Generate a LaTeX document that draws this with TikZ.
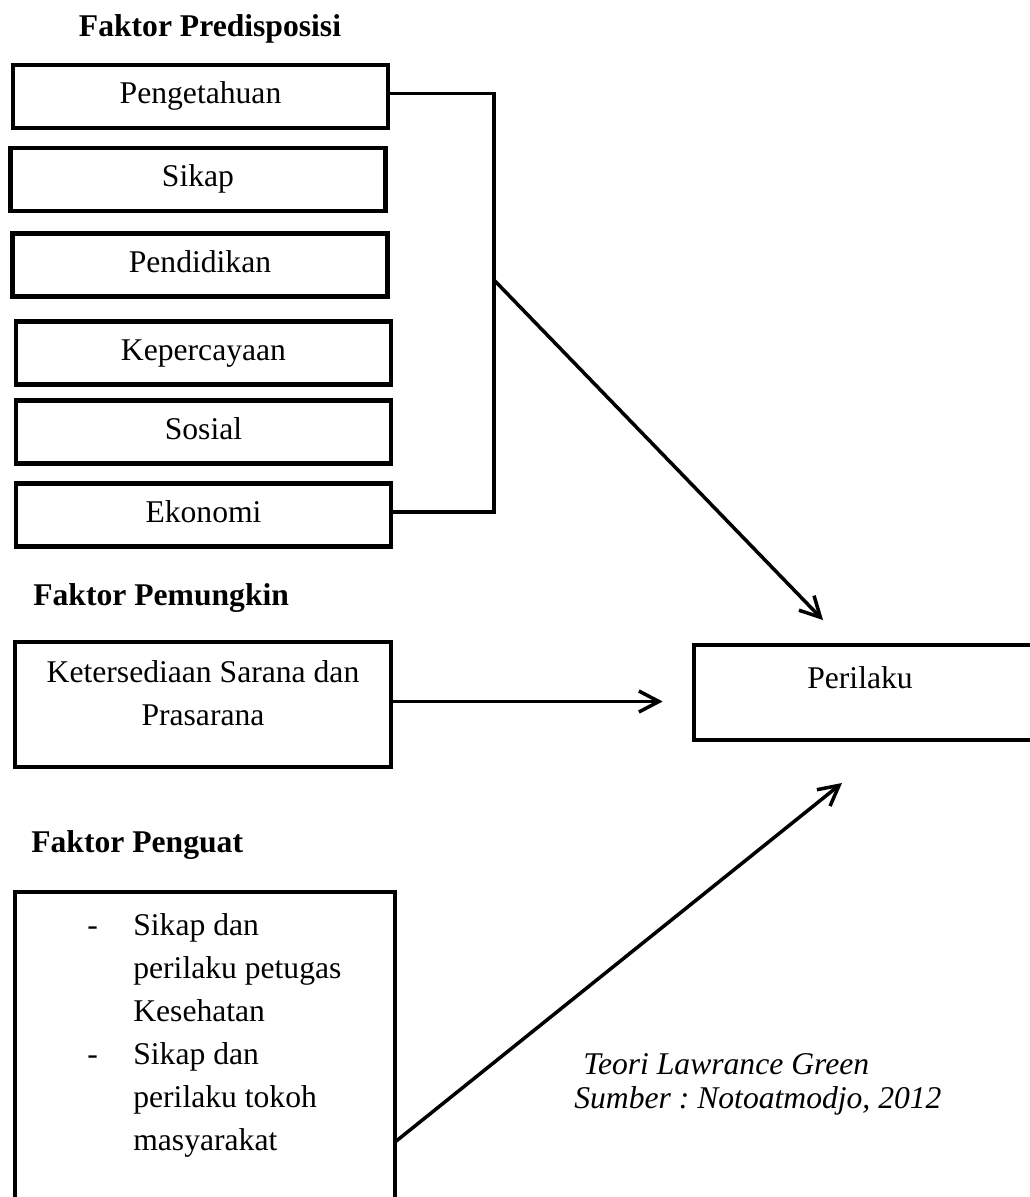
\documentclass[tikz,border=0pt]{standalone}
\usepackage{fontspec}
\setmainfont{Liberation Serif}
\usetikzlibrary{arrows.meta}

\begin{document}
\frenchspacing
\fontsize{18}{24.5}\selectfont
\begin{tikzpicture}[x=0.02cm,y=-0.02cm,
    faktor/.style={draw,line width=2.7pt,rectangle,minimum width=7.5cm,minimum height=1.26cm,
      text height=0.7em,text depth=0.25em,inner sep=0pt},
    teks/.style={inner sep=0pt},
    judul/.style={teks,font=\bfseries,anchor=base west},
    panah/.style={line width=2pt,-{Straight Barb[length=0.4cm,width=0.42cm]}}]
    \clip (0,0) rectangle (1030,1197);
    % faktor predisposisi
    \node[judul,anchor=base] (jp) at (210,36) {Faktor Predisposisi};
    \node[faktor] (pg) at (200.5,96.5) {Pengetahuan};
    \node[faktor] (sk) at (198,179.5) {Sikap};
    \node[faktor] (pd) at (200,265) {Pendidikan};
    \node[faktor] (kp) at (203.5,353) {Kepercayaan};
    \node[faktor] (ss) at (203.5,432) {Sosial};
    \node[faktor] (ek) at (203.5,515) {Ekonomi};
    \coordinate (brk) at (494,280);
    \coordinate (tipA) at (823,620);
    \draw[line width=2pt] ([yshift=0.06cm]pg.east) -| (brk) |- ([yshift=0.06cm]ek.east);
    \draw[panah] (brk) -- (tipA);
    % faktor pemungkin
    \node[judul] (jm) at (33,605) {Faktor Pemungkin};
    \node[faktor,minimum width=7.52cm,minimum height=2.5cm] (ks) at (203,704.5) {};
    \node[teks,anchor=base] (ksteks) at (203,682) {\begin{tabular}[t]{@{}c@{}}Ketersediaan Sarana dan\\Prasarana\end{tabular}};
    \node[faktor,minimum width=7.02cm,minimum height=1.9cm] (pr) at (869.5,692.5) {};
    \node[teks,anchor=base] (prteks) at (860,688) {Perilaku};
    \draw[panah,shorten >=0.58cm] ([yshift=0.06cm]ks.east) -- ([yshift=0.06cm]ks.east -| pr.west);
    % faktor penguat
    \node[judul] (jg) at (31,852) {Faktor Penguat};
    \node[faktor,minimum width=7.6cm,minimum height=6.46cm] (pn) at (205,1053.5) {};
    \node[teks,anchor=base west] (pnteks) at (87,935) {\begin{tabular}[t]{@{}p{0.92cm}@{}l@{}}
        - & Sikap dan\\
          & perilaku petugas\\
          & Kesehatan\\
        - & Sikap dan\\
          & perilaku tokoh\\
          & masyarakat
      \end{tabular}};
    \coordinate (pnout) at (395,1142);
    \coordinate (tipC) at (842,783);
    \draw[panah] (pnout) -- (tipC);
    % sumber
    \node[teks,anchor=base west,font=\itshape] (sumber) at (574,1074) {\fontsize{18}{19.9}\selectfont
      \begin{tabular}[t]{@{}l@{}}\hspace*{0.18cm}Teori Lawrance Green\\Sumber : Notoatmodjo, 2012\end{tabular}};
\end{tikzpicture}
\end{document}
